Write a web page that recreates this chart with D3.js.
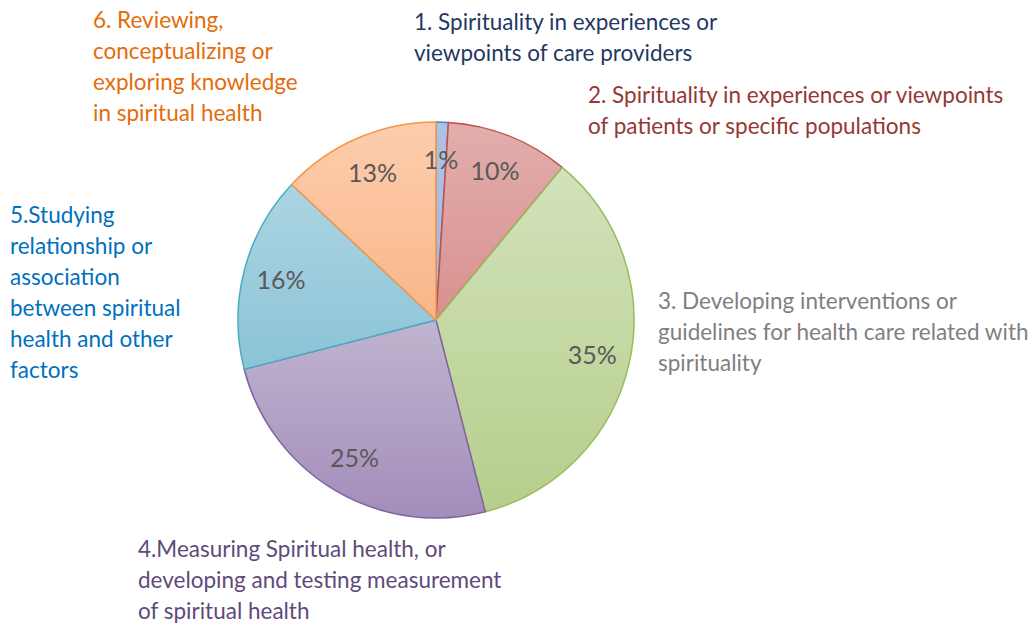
<!DOCTYPE html>
<html><head><meta charset="utf-8">
<script src="https://cdn.jsdelivr.net/npm/d3@7"></script>
<style>body{margin:0;background:#fff}svg{display:block}</style>
</head><body>
<svg id="c" width="1036" height="630"></svg>
<script>
const categories = [
  ["1. Spirituality in experiences or", "viewpoints of care providers"],
  ["2. Spirituality in experiences or viewpoints", "of patients or specific populations"],
  ["3. Developing interventions or", "guidelines for health care related with", "spirituality"],
  ["4.Measuring Spiritual health, or", "developing and testing measurement", "of spiritual health"],
  ["5.Studying", "relationship or", "association", "between spiritual", "health and other", "factors"],
  ["6. Reviewing,", "conceptualizing or", "exploring knowledge", "in spiritual health"]
];
const values = [1, 10, 35, 25, 16, 13];
const percentLabels = ["1%", "10%", "35%", "25%", "16%", "13%"];
const strokeColors = ["#4f81bd", "#c0504d", "#9bbb59", "#8064a2", "#4bacc6", "#f79646"];
const gradTop = ["#aec3e4", "#e2aeac", "#d2e2bb", "#bfb5cf", "#acd5e2", "#fdcdae"];
const gradBottom = ["#a2b7dc", "#d89190", "#b6ce8b", "#a38dbb", "#8bc3d7", "#f8b688"];
const textColors = ["#1f3864", "#953735", "#7f7f7f", "#604a7b", "#0070c0", "#e46c0a"];

const svg = d3.select("#c");
const cx = 436, cy = 320, R = 198, labelR = 160;
const defs = svg.append("defs");
values.forEach((v, i) => {
  const g = defs.append("linearGradient").attr("id", "g" + i)
    .attr("x1", 0).attr("y1", 0).attr("x2", 0).attr("y2", 1);
  g.append("stop").attr("offset", "0%").attr("stop-color", gradTop[i]);
  g.append("stop").attr("offset", "100%").attr("stop-color", gradBottom[i]);
});

const pie = d3.pie().sort(null).value(d => d)(values);
const arc = d3.arc().innerRadius(0).outerRadius(R);
const labelArc = d3.arc().innerRadius(labelR).outerRadius(labelR);
const g = svg.append("g").attr("transform", `translate(${cx},${cy})`);
g.selectAll("path").data(pie).join("path")
  .attr("d", arc)
  .attr("fill", (d, i) => `url(#g${i})`)
  .attr("stroke", (d, i) => strokeColors[i])
  .attr("stroke-width", 1.5)
  .attr("stroke-linejoin", "round");
g.selectAll("text").data(pie).join("text")
  .attr("transform", d => `translate(${labelArc.centroid(d)})`)
  .attr("text-anchor", "middle").attr("dy", "0.36em")
  .attr("font-family", "Lato, sans-serif").attr("font-size", 25)
  .attr("fill", "#595959")
  .text((d, i) => percentLabels[i]);

const labelPos = [[414, 30], [588, 103], [658, 309], [138, 557], [10, 223], [93, 28]];
const lineH = 31;
categories.forEach((lines, i) => {
  const t = svg.append("text").attr("font-family", "Lato, sans-serif").attr("font-size", 22.5)
    .attr("fill", textColors[i]);
  lines.forEach((ln, j) => {
    t.append("tspan").attr("x", labelPos[i][0]).attr("y", labelPos[i][1] + j * lineH).text(ln);
  });
});
</script>
</body></html>
